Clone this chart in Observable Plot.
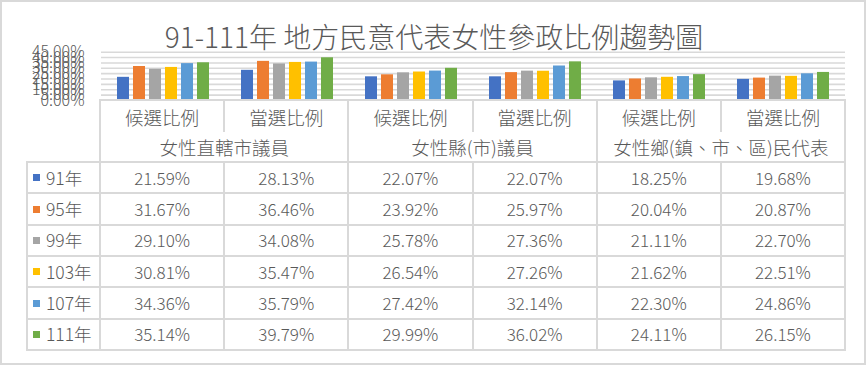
<!DOCTYPE html>
<html>
<head>
<meta charset="utf-8">
<script src="https://cdn.jsdelivr.net/npm/d3@7"></script>
<script src="https://cdn.jsdelivr.net/npm/@observablehq/plot@0.6"></script>
<style>
  body { margin: 0; background: #fff; font-family: "Noto Sans CJK TC", "Noto Sans", sans-serif; color: #595959; font-weight: 300; }
  #wrap { position: relative; width: 867px; height: 366px; overflow: hidden; background: #fff; }
  #frame { position: absolute; left: 0; top: 0; width: 862px; height: 361px; border: 2px solid #d9d9d9; }
  #title { position: absolute; left: 0; width: 868px; top: 21px; line-height: 30px; text-align: center; font-size: 28px; color: #595959; white-space: nowrap; font-weight: 300; }
  #chart { position: absolute; left: 0; top: 0; }
  .ln { position: absolute; background: #d9d9d9; }
  .tx { position: absolute; text-align: center; white-space: nowrap; color: #595959; font-weight: 300; }
  .sw { position: absolute; width: 7px; height: 7px; }
</style>
</head>
<body>
<div id="wrap">
  <div id="frame"></div>
  <div id="title">91-111年 地方民意代表女性參政比例趨勢圖</div>
  <div id="chart"></div>
  <div id="table"></div>
</div>
<script>
// ---- data ----
const categories = ["女性直轄市議員", "女性縣(市)議員", "女性鄉(鎮、市、區)民代表"];
const types = ["候選比例", "當選比例"];
const years = ["91年", "95年", "99年", "103年", "107年", "111年"];
const colors = ["#4472C4", "#ED7D31", "#A5A5A5", "#FFC000", "#5B9BD5", "#70AD47"];
// values per year, order: 直轄市 候選, 直轄市 當選, 縣市 候選, 縣市 當選, 鄉鎮 候選, 鄉鎮 當選
const v91  = [0.2159, 0.2813, 0.2207, 0.2207, 0.1825, 0.1968];
const v95  = [0.3167, 0.3646, 0.2392, 0.2597, 0.2004, 0.2087];
const v99  = [0.2910, 0.3408, 0.2578, 0.2736, 0.2111, 0.2270];
const v103 = [0.3081, 0.3547, 0.2654, 0.2726, 0.2162, 0.2251];
const v107 = [0.3436, 0.3579, 0.2742, 0.3214, 0.2230, 0.2486];
const v111 = [0.3514, 0.3979, 0.2999, 0.3602, 0.2411, 0.2615];
const yTicks = [0, 0.05, 0.10, 0.15, 0.20, 0.25, 0.30, 0.35, 0.40, 0.45];

const series = [v91, v95, v99, v103, v107, v111];
const groupKeys = [];
categories.forEach(c => types.forEach(t => groupKeys.push(c + "|" + t)));
const rows = [];
years.forEach((yr, i) => groupKeys.forEach((g, j) => rows.push({year: yr, group: g, value: series[i][j]})));

// ---- layout constants ----
const W = 867, plotLeft = 100, plotRight = 845;
const axisTop = 51.7, axisBottom = 100;

const chart = Plot.plot({
  width: W,
  height: 110,
  marginLeft: plotLeft,
  marginRight: W - plotRight,
  marginTop: axisTop,
  marginBottom: 110 - axisBottom,
  style: { fontFamily: "'Noto Sans CJK TC', 'Noto Sans', sans-serif", fontSize: "16px", fontWeight: 300, color: "#595959", background: "transparent", overflow: "visible" },
  fx: { domain: groupKeys, padding: 0, axis: null },
  x: { domain: years, axis: null, paddingInner: 0.22, paddingOuter: 0.83 },
  y: { domain: [0, 0.45], ticks: yTicks, tickFormat: d3.format(".2%"), tickSize: 0, tickPadding: 17, label: null },
  color: { domain: years, range: colors },
  marks: [
    Plot.ruleY(yTicks.slice(1), { stroke: "#d9d9d9", strokeWidth: 1.6, strokeOpacity: 1 }),
    Plot.barY(rows, { fx: "group", x: "year", y: "value", fill: "year" })
  ]
});
document.getElementById("chart").appendChild(chart);

// ---- data table ----
const tbl = document.getElementById("table");
const colW = (plotRight - plotLeft) / groupKeys.length;
const colX = i => plotLeft + i * colW;
const legendLeft = 27, tableTop = 100, headMid = 131, dataTop = 162, tableBottom = 350;
const rowH = (tableBottom - dataTop) / years.length;
const LW = 2;

function line(x1, y1, x2, y2) {
  const d = document.createElement("div");
  d.className = "ln";
  if (y1 === y2) { Object.assign(d.style, {left: x1 - LW/2 + "px", top: y1 - LW/2 + "px", width: (x2 - x1 + LW) + "px", height: LW + "px"}); }
  else { Object.assign(d.style, {left: x1 - LW/2 + "px", top: y1 - LW/2 + "px", width: LW + "px", height: (y2 - y1 + LW) + "px"}); }
  tbl.appendChild(d);
}
function text(s, cx, cy, size, align) {
  const d = document.createElement("div");
  d.className = "tx";
  d.textContent = s;
  const lh = 24;
  if (align === "left") Object.assign(d.style, {left: cx + "px", textAlign: "left"});
  else Object.assign(d.style, {left: (cx - 150) + "px", width: "300px"});
  Object.assign(d.style, {top: (cy - lh/2) + "px", lineHeight: lh + "px", fontSize: size + "px"});
  tbl.appendChild(d);
}

// horizontal lines
line(plotLeft, tableTop, plotRight, tableTop);
for (let r = 0; r <= years.length; r++) line(legendLeft, dataTop + r * rowH, plotRight, dataTop + r * rowH);
// vertical lines
line(legendLeft, dataTop, legendLeft, tableBottom);
for (let i = 0; i <= groupKeys.length; i++) {
  const x = colX(i);
  if (i % 2 === 0) line(x, tableTop, x, tableBottom);
  else { line(x, tableTop, x, headMid); line(x, dataTop, x, tableBottom); }
}
// header text
groupKeys.forEach((g, j) => text(types[j % 2], colX(j) + colW / 2, 116.5, 18.5));
categories.forEach((c, k) => text(c, colX(2 * k) + colW, 146.5, 18.5));
// rows
years.forEach((yr, i) => {
  const cy = dataTop + rowH * (i + 0.5);
  const sw = document.createElement("div");
  sw.className = "sw";
  Object.assign(sw.style, {left: "33px", top: (cy - 3.5) + "px", background: colors[i]});
  tbl.appendChild(sw);
  text(yr, 46, cy, 17.5, "left");
  series[i].forEach((v, j) => text(d3.format(".2%")(v), colX(j) + colW / 2, cy, 17));
});
</script>
</body>
</html>
